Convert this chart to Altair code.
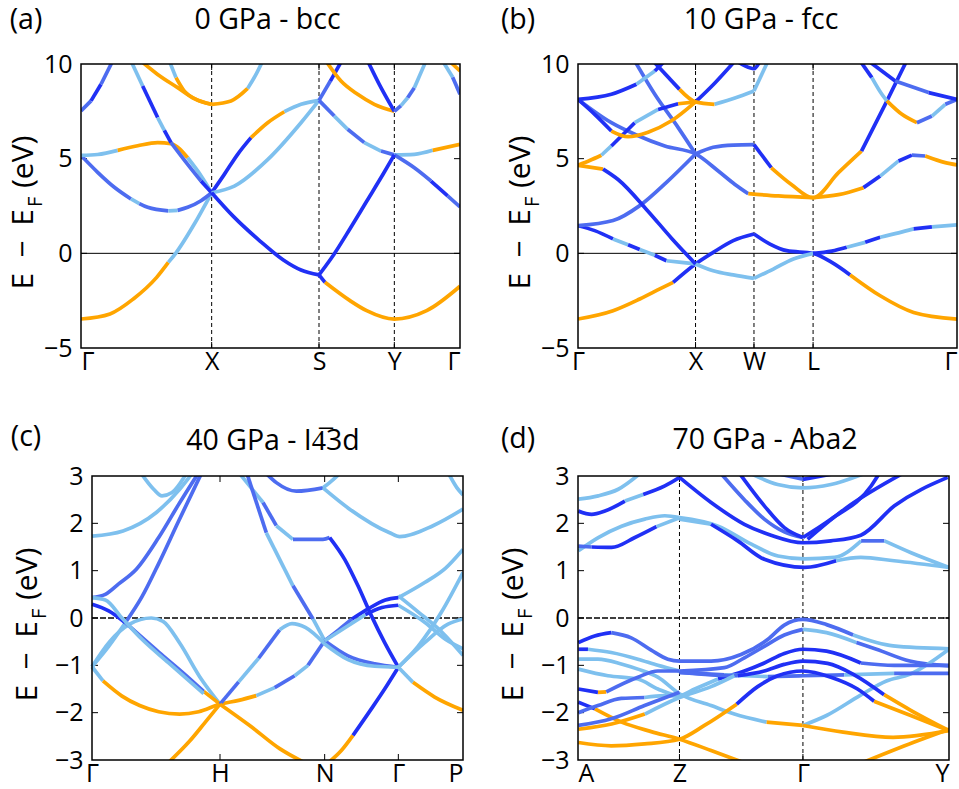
import altair as alt
import pandas as pd

FONT = "Open Sans"
CODES = ["O", "L", "M", "D"]
PALETTE = ["#FFA500", "#7EC0EE", "#4D6CF0", "#2030F5"]

# ---------------- panel (a): 0 GPa - bcc ----------------
A_XT = [0, 392, 714, 940, 1137]
A_XL = ["Γ", "X", "S", "Y", "Γ"]
A_VL = [392, 714, 940]
A01 = ([0, 87, 157, 227, 262, 284, 340, 392], [-3.47, -3.2, -2.41, -1.27, -0.48, 0, 1.55, 3.2], "OOOOLLL")
A02 = ([0, 50, 100, 150, 175, 200, 262, 290, 320, 360, 392], [5.17, 4.28, 3.49, 2.87, 2.63, 2.43, 2.24, 2.27, 2.43, 2.78, 3.2], "MMMLMMLMMM")
A03 = ([0, 50, 110, 170, 230, 270, 320, 360, 392], [5.17, 5.22, 5.44, 5.68, 5.85, 5.79, 5.05, 4.1, 3.2], "LLOOOOLL")
A04 = ([0, 30, 60, 95], [7.52, 8.05, 8.93, 10.16], "MDM")
A05 = ([150, 185, 230, 250, 270, 320, 360, 392], [10.16, 8.84, 7.17, 6.5, 5.85, 4.7, 3.82, 3.2], "LDLDMMD")
A06 = ([180, 230, 290, 340, 392], [10.16, 9.45, 8.75, 8.17, 7.87], "OOOO")
A07 = ([265, 285, 310, 345, 392], [10.16, 9.28, 8.57, 8.13, 7.87], "LOOO")
A08 = ([392, 450, 500, 525, 545], [7.87, 8.05, 8.71, 9.45, 10.16], "OOLL")
A09 = ([392, 430, 470, 510, 560, 610, 660, 714], [3.2, 4.17, 5.23, 6.11, 6.9, 7.48, 7.87, 8.08], "DDDOOLL")
A10 = ([392, 460, 560, 660, 714], [3.2, 3.55, 4.95, 6.9, 8.08], "LLLL")
A11 = ([392, 457, 537, 607, 660, 714], [3.2, 1.95, 0.65, -0.35, -0.88, -1.14], "DDDDD")
A12 = ([714, 748, 782], [8.08, 9.1, 10.16], "MD")
A13 = ([735, 780, 830, 880, 940], [10.16, 9.1, 8.4, 7.87, 7.5], "OOOO")
A14 = ([860, 900, 940], [10.16, 8.75, 7.5], "DD")
A15 = ([940, 960, 980, 1000, 1035], [7.5, 7.8, 8.22, 8.75, 10.16], "MLML")
A16 = ([1085, 1115, 1137], [10.16, 9.3, 8.4], "LM")
A17 = ([1105, 1137], [10.16, 9.63], "O")
A18 = ([714, 760, 800, 850, 900, 940], [8.08, 7.25, 6.55, 5.85, 5.4, 5.2], "MLMLM")
A19 = ([940, 1000, 1055, 1137], [5.2, 5.23, 5.44, 5.76], "LLO")
A20 = ([940, 1000, 1050, 1100, 1137], [5.2, 4.52, 3.82, 3.03, 2.45], "MMDM")
A21 = ([714, 757, 807, 857, 907, 940], [-1.14, -0.1, 1.3, 2.75, 4.2, 5.2], "DDDDD")
A22 = ([714, 732, 807, 857, 940, 1037, 1137], [-1.14, -1.53, -2.5, -3.03, -3.47, -3.03, -1.74], "DOOOOO")
BANDS_A = [A01, A02, A03, A04, A05, A06, A07, A08, A09, A10, A11, A12, A13, A14, A15, A16, A17, A18, A19, A20, A21, A22]

# ---------------- panel (b): 10 GPa - fcc ----------------
B_XT = [0, 352, 527, 704, 1135]
B_XL = ["Γ", "X", "W", "L", "Γ"]
B_VL = [352, 527, 704]
B01 = ([0, 105, 185, 245, 285, 352, 405, 465, 527], [-3.47, -3.03, -2.41, -1.88, -1.53, -0.56, 0.05, 0.67, 1.02], "OOOODDDD")
B01R = ([527, 575, 625, 704, 760, 815, 905, 1005, 1135], [1.02, 0.49, 0.14, 0, -0.48, -1.14, -2.24, -3.12, -3.47], "DDDDDOOO")
B02 = ([0, 50, 105, 150, 185, 230, 265, 310, 352], [1.46, 1.2, 0.76, 0.45, 0.2, -0.1, -0.39, -0.48, -0.56], "DDLDLDLL")
B03 = ([352, 405, 465, 527], [-0.56, -0.92, -1.14, -1.32], "LLL")
B03R = ([527, 585, 645, 704], [-1.32, -0.83, -0.3, 0], "LLL")
B04 = ([704, 760, 805, 860, 905, 960, 1005, 1060, 1135], [0, 0.12, 0.32, 0.58, 0.85, 1.08, 1.29, 1.4, 1.5], "DDLDLLDL")
B05 = ([0, 105, 185, 265, 352], [1.46, 1.73, 2.52, 3.75, 5.25], "MMMM")
B06 = ([352, 405, 465, 527, 579, 639, 704, 780, 849, 920, 984], [5.25, 5.6, 5.72, 5.74, 4.52, 3.64, 2.94, 4.26, 5.4, 7.87, 10.16], "MMMDOOOODD")
B07 = ([0, 100, 175, 260, 352, 420, 470, 510, 600, 704], [8.13, 6.9, 6.25, 5.67, 5.25, 4.35, 3.64, 3.15, 3.03, 2.94], "MMMMMMMOO")
B08 = ([170, 230, 300, 352], [10.16, 8.4, 6.64, 5.25], "MMM")
B09 = ([0, 35, 70, 100, 170, 240, 300, 352], [4.65, 4.9, 5.18, 5.67, 6.9, 7.6, 7.9, 8.0], "OOLDLDO")
B10 = ([0, 50, 100, 150, 210, 280, 352, 410, 470], [8.13, 7.34, 6.46, 6.16, 6.4, 7.0, 8.0, 9.0, 10.16], "DDOOOODD")
B11 = ([225, 304, 352, 409, 470, 527], [10.16, 8.66, 8.0, 7.87, 8.2, 8.57], "DOOLL")
B11R = ([527, 569], [8.57, 10.16], "L")
B12 = ([0, 100, 175, 230, 260], [8.13, 8.4, 8.93, 9.63, 10.16], "DDLD")
B13 = ([0, 75, 120, 209, 280, 352], [4.65, 4.45, 3.9, 2.24, 0.8, -0.56], "ODDDD")
B14 = ([475, 500, 527, 545], [10.16, 9.9, 9.75, 10.16], "DDD")
B15 = ([845, 880, 910, 925, 970, 1015, 1060, 1100, 1135], [10.16, 9.28, 8.4, 8.05, 7.34, 6.9, 7.25, 7.87, 8.13], "DLLOOMLM")
B16 = ([870, 950, 1050, 1135], [10.16, 9.1, 8.49, 8.13], "DMD")
B17 = ([704, 780, 855, 905, 960, 1000, 1040, 1100, 1135], [2.94, 3.1, 3.47, 4.08, 4.88, 5.19, 5.14, 4.79, 4.67], "OODLDMOO")
BANDS_B = [B01, B01R, B02, B03, B03R, B04, B05, B06, B07, B08, B09, B10, B11, B11R, B12, B13, B14, B15, B16, B17]

# ---------------- panel (c): 40 GPa - I-43d ----------------
C_XT = [0, 384, 698, 919, 1113]
C_XL = ["Γ", "H", "N", "Γ", "P"]
C01 = ([0, 93, 193, 263, 300], [1.73, 1.84, 2.23, 2.72, 3.05], "LLLL")
C02 = ([148, 185, 210, 240, 283], [3.05, 2.72, 2.58, 2.65, 3.05], "LLLL")
C03 = ([0, 40, 80, 133, 200, 260, 318], [0.43, 0.5, 0.72, 1.03, 1.7, 2.4, 3.05], "MMMMMM")
C04 = ([0, 50, 100, 150, 200, 260, 328], [-1.03, -0.6, -0.1, 0.45, 1.15, 2.05, 3.05], "LLMMMM")
C05 = ([0, 53, 113, 178, 213, 263, 323, 384], [-1.03, -0.5, -0.13, 0.0, -0.07, -0.53, -1.24, -1.82], "LLLLLLL")
C06 = ([0, 50, 100, 200, 280, 335, 384], [0.29, 0.15, -0.1, -0.72, -1.2, -1.55, -1.82], "DDMMMO")
C07 = ([0, 40, 90, 150, 230, 335], [0.43, 0.38, 0.0, -0.45, -0.95, -1.6], "LLLLL")
C08 = ([0, 33, 90, 143, 200, 263, 320, 384, 440, 493, 548, 608, 648, 698],
       [-1.03, -1.33, -1.65, -1.85, -1.98, -2.03, -1.98, -1.82, -1.74, -1.64, -1.47, -1.22, -1.0, -0.48],
       "LOOOOOOOOLMLM")
C09 = ([443, 513, 553, 603, 693, 713, 758, 798, 838, 878, 919], [3.05, 2.44, 1.95, 1.66, 1.66, 1.7, 1.24, 0.68, 0.05, -0.52, -1.04], "LMLMMDDDDD")
C10 = ([710, 748, 783, 838, 878, 919], [-3.05, -2.8, -2.48, -1.92, -1.5, -1.04], "OODDD")
C11 = ([465, 523, 603, 663, 698, 768, 848, 919], [3.05, 1.8, 0.68, -0.02, -0.48, -0.8, -0.97, -1.04], "MLMLMMM")
C12 = ([698, 768, 848, 919], [-0.55, -0.88, -1.02, -1.04], "LLL")
C13 = ([919, 963, 1028, 1113], [-1.04, -1.36, -1.67, -1.95], "LOO")
C14 = ([919, 998, 1060, 1113], [0.43, 0.75, 1.05, 1.45], "LLL")
C15 = ([919, 978, 1048, 1113], [-1.04, -0.6, 0.12, 0.96], "LLL")
C16 = ([919, 998, 1068, 1113], [-1.04, -0.52, -0.13, -0.02], "LLL")
C17 = ([919, 980, 1050, 1113], [0.47, 0.12, -0.3, -0.79], "LLL")
C18 = ([919, 1000, 1060, 1113], [0.27, -0.1, -0.45, -0.65], "LLL")
C19 = ([523, 553, 613, 693, 713, 743], [3.05, 2.86, 2.68, 2.75, 2.86, 3.05], "MMMLL")
C20 = ([693, 773, 893, 923, 1023, 1113], [2.75, 2.3, 1.8, 1.72, 1.95, 2.3], "LLLLL")
C21 = ([1070, 1095, 1113], [3.05, 2.75, 2.6], "LL")
C22 = ([698, 740, 780, 830, 880, 919], [-0.48, -0.25, -0.02, 0.2, 0.38, 0.43], "MMDDD")
C23 = ([698, 760, 820, 870, 919], [-0.48, -0.2, 0.07, 0.22, 0.27], "LLDD")
C24 = ([384, 440, 500, 563, 600, 640, 698], [-1.82, -1.35, -0.85, -0.25, -0.12, -0.2, -0.55], "MLMLLL")
C25 = ([230, 293, 340, 384], [-3.05, -2.6, -2.2, -1.82], "OOO")
C26 = ([384, 473, 563, 636], [-1.82, -2.27, -2.76, -3.05], "OOO")
BANDS_C = [C01, C02, C03, C04, C05, C06, C07, C08, C09, C10, C11, C12, C13, C14, C15, C16, C17, C18, C19,
           C20, C21, C22, C23, C24, C25, C26]

# ---------------- panel (d): 70 GPa - Aba2 ----------------
D_XT = [0, 305, 676, 1115]
D_XL = ["A", "Z", "Γ", "Y"]
D_VL = [305, 676]
D01 = ([1, 61, 121, 186], [2.51, 2.58, 2.72, 3.05], "LLL")
D02 = ([1, 41, 81, 141, 196, 261, 305], [2.26, 2.19, 2.26, 2.47, 2.61, 2.79, 2.97], "DDDLDD")
D03 = ([1, 61, 131, 201, 261, 305], [1.42, 1.7, 1.94, 2.09, 2.16, 2.12], "LLLLL")
D04 = ([1, 41, 101, 171, 236, 305], [1.52, 1.5, 1.49, 1.7, 1.93, 2.12], "MDDDL")
D05 = ([305, 421, 521, 601, 681, 771, 851, 921, 1001, 1115], [2.12, 1.94, 1.56, 1.31, 1.25, 1.28, 1.63, 1.63, 1.38, 1.07], "LLLLLLMLL")
D06 = ([305, 400, 480, 560, 681, 776, 850, 950, 1115], [2.09, 1.98, 1.63, 1.24, 1.07, 1.21, 1.28, 1.21, 1.07], "LDDDDLLL")
D07 = ([305, 400, 500, 580, 676, 760, 850, 951, 1111], [2.97, 2.44, 1.98, 1.75, 1.59, 1.63, 1.75, 2.37, 2.97], "DDDDDDDD")
D08 = ([430, 500, 560, 620, 676], [3.05, 2.5, 2.09, 1.82, 1.7], "MMMM")
D09 = ([486, 560, 620, 676], [3.05, 2.37, 1.91, 1.7], "DDD")
D10 = ([676, 761, 881, 905], [1.7, 2.09, 2.79, 3.05], "DDD")
D11 = ([690, 801, 975], [1.66, 2.3, 3.05], "DD")
D12 = ([520, 600, 676, 760, 860], [3.05, 2.82, 2.75, 2.82, 3.05], "LLLL")
D13 = ([600, 676, 770], [3.05, 2.93, 3.05], "MD")
D14 = ([1, 50, 100, 160, 220, 270, 305, 400, 490, 571, 620, 676, 747, 827, 947, 1115],
       [-0.52, -0.38, -0.31, -0.42, -0.68, -0.87, -0.91, -0.91, -0.77, -0.45, -0.15, -0.03, -0.14, -0.36, -0.59, -0.65],
       "DDMMMMMMMMMMMLL")
D15 = ([1, 30, 100, 180, 240, 305, 440, 500, 560, 620, 676, 747, 837, 897, 997, 1115],
       [-0.66, -0.66, -0.73, -0.87, -1.0, -1.12, -1.05, -0.84, -0.6, -0.36, -0.24, -0.31, -0.52, -0.66, -0.91, -1.01],
       "DLLLLMMMMMLLMMM")
D16 = ([1, 60, 130, 180, 240, 305, 400, 470, 567, 676, 747, 847, 927, 997, 1115],
       [-0.87, -0.87, -0.97, -1.08, -1.25, -1.6, -1.85, -2.03, -2.2, -2.27, -2.06, -1.64, -1.33, -1.19, -0.66],
       "LLLLLLLLOLLLLL")
D17 = ([1, 90, 180, 240, 305, 351, 421, 500, 560, 620, 676, 747, 850, 950, 1115],
       [-1.08, -1.22, -1.29, -1.5, -1.64, -1.5, -1.29, -1.12, -0.95, -0.75, -0.66, -0.7, -0.95, -1.0, -1.0],
       "LLLLLLDDDDDDMM")
D18 = ([1, 60, 85, 180, 240, 305], [-1.5, -1.57, -1.56, -1.25, -1.12, -1.12], "DOMMM")
D19 = ([305, 440, 571, 676, 800, 950, 1115], [-1.15, -1.2, -1.24, -1.22, -1.2, -1.17, -1.17], "MLMMLM")
D20 = ([1, 100, 200, 305, 380, 477, 540, 600, 676, 760, 840, 890, 1000, 1115],
       [-2.63, -2.7, -2.66, -2.56, -2.27, -1.82, -1.45, -1.22, -1.12, -1.25, -1.5, -1.76, -2.06, -2.38],
       "OOOOODDDDDDOO")
D21 = ([305, 400, 480, 560, 620, 676, 750, 830, 920, 1000, 1115],
       [-1.15, -1.2, -1.22, -1.12, -0.98, -0.91, -0.96, -1.2, -1.62, -1.95, -2.38], "MMDDDDDDOO")
D22 = ([1, 51, 131, 220, 305, 400, 496], [-1.78, -1.92, -2.2, -2.4, -2.56, -2.8, -3.05], "DOOOOO")
D23 = ([1, 60, 130, 200, 260, 305], [-2.0, -1.85, -1.7, -1.68, -1.64, -1.65], "MMMLL")
D24 = ([1, 101, 201, 305, 400, 470], [-2.35, -2.24, -2.03, -1.68, -1.45, -1.22], "OOLLL")
D25 = ([1, 100, 200, 305], [-2.27, -2.13, -1.85, -1.57], "MMM")
D26 = ([857, 1007, 1115], [-3.05, -2.63, -2.35], "OO")
D27 = ([676, 797, 947, 1115], [-2.27, -2.41, -2.52, -2.38], "OOO")
BANDS_D = [D01, D02, D03, D04, D05, D06, D07, D08, D09, D10, D11, D12, D13, D14, D15, D16, D17, D18, D19,
           D20, D21, D22, D23, D24, D25, D26, D27]


def band_table(bands, prefix):
    rows = []
    for bi, (K, E, C) in enumerate(bands):
        piece = 0
        for i, c in enumerate(C):
            if i == 0 or C[i - 1] != c:
                piece += 1
                rows.append({"k": K[i], "e": E[i], "c": c, "g": f"{prefix}{bi}_{piece}", "o": i})
            rows.append({"k": K[i + 1], "e": E[i + 1], "c": c, "g": f"{prefix}{bi}_{piece}", "o": i + 1})
    return pd.DataFrame(rows)


def label_expr(vals, labs):
    expr = "''"
    for v, l in reversed(list(zip(vals, labs))):
        expr = f"datum.value == {v} ? '{l}' : ({expr})"
    return expr


def text(t, x, y, size, angle=0, align="center"):
    return alt.Chart(pd.DataFrame({"t": [t]})).mark_text(
        font=FONT, fontSize=size, color="black", align=align, baseline="middle", angle=angle
    ).encode(x=alt.value(x), y=alt.value(y), text="t:N")


def panel(bands, prefix, xdom, ydom, yticks, xt, xl, vlines, frame_x, width, letter, title, pos,
          zero_dash, yoffset=0, last_right=False):
    df = band_table(bands, prefix)
    x_kw = dict(values=xt, labelExpr=label_expr(xt, xl), title=None, grid=False, domain=False,
                ticks=False, labelFont=FONT, labelFontSize=25, labelColor="black", labelPadding=1,
                labelAngle=0, labelOverlap=False)
    if last_right:
        x_kw["labelAlign"] = {"condition": {"test": f"datum.value >= {xt[-1]}", "value": "right"},
                              "value": "center"}
    xa = alt.Axis(**x_kw)
    ya = alt.Axis(values=yticks, format="d", title=None, grid=False, domain=False, ticks=False,
                  labelFont=FONT, labelFontSize=25, labelColor="black", labelPadding=9, offset=yoffset)
    xs = alt.Scale(domain=xdom, nice=False, zero=False)
    ys = alt.Scale(domain=ydom, nice=False, zero=False)

    lines = alt.Chart(df).mark_line(interpolate="monotone", strokeWidth=3.7, clip=True).encode(
        x=alt.X("k:Q", scale=xs, axis=xa),
        y=alt.Y("e:Q", scale=ys, axis=ya),
        color=alt.Color("c:N", scale=alt.Scale(domain=CODES, range=PALETTE), legend=None),
        detail="g:N",
        order="o:Q",
    )
    layers = []
    if vlines:
        layers.append(alt.Chart(pd.DataFrame({"k": vlines})).mark_rule(
            color="black", strokeWidth=1, strokeDash=[4, 3]).encode(x=alt.X("k:Q", scale=xs, axis=xa)))
    # small inward tick marks on the frame (6 px long)
    dk = 6 * (xdom[1] - xdom[0]) / width
    de = 6 * (ydom[1] - ydom[0]) / 284
    trows = []
    for v in yticks[1:-1]:
        trows.append({"k": frame_x[0], "k1": frame_x[0] + dk, "e": v, "e1": v})
        trows.append({"k": frame_x[1] - dk, "k1": frame_x[1], "e": v, "e1": v})
    for v in xt[1:-1]:
        trows.append({"k": v, "k1": v, "e": ydom[0], "e1": ydom[0] + de})
        trows.append({"k": v, "k1": v, "e": ydom[1] - de, "e1": ydom[1]})
    ticks = alt.Chart(pd.DataFrame(trows)).mark_rule(color="black", strokeWidth=1).encode(
        x=alt.X("k:Q", scale=xs, axis=xa), x2="k1:Q", y=alt.Y("e:Q", scale=ys, axis=ya), y2="e1:Q")
    zdf = pd.DataFrame({"k": [frame_x[0]], "k1": [frame_x[1]], "e": [ydom[0]], "e1": [ydom[1]], "z": [0]})
    zero = alt.Chart(zdf).mark_rule(color="black", strokeWidth=1.4 if zero_dash else 1,
                                    strokeDash=[6, 2] if zero_dash else [1, 0]).encode(
        x=alt.X("k:Q", scale=xs, axis=xa), x2="k1:Q", y=alt.Y("z:Q", scale=ys, axis=ya))
    frame = alt.Chart(zdf).mark_rect(fillOpacity=0, stroke="black", strokeWidth=1.5).encode(
        x=alt.X("k:Q", scale=xs, axis=xa), x2="k1:Q", y=alt.Y("e:Q", scale=ys, axis=ya), y2="e1:Q")
    layers += [zero, ticks, lines, frame]
    (lx, ly), (tx, ty), (mx, fx) = pos
    layers += [
        text(letter, lx, ly, 28.5),
        text(title, tx, ty, 28.5),
        text("E\u2002−\u2002E", mx, 145, 30, angle=270, align="right"),
        text("F", fx, 143, 20, angle=270, align="left"),
        text("(eV)", mx, 124, 30, angle=270, align="left"),
    ]
    return alt.layer(*layers).properties(width=width, height=284)


pa = panel(BANDS_A, "a", [0, 1137], [-5, 10], [-5, 0, 5, 10], A_XT, A_XL, A_VL, [0, 1137], 379,
           "(a)", "0 GPa - bcc", ((-55, -44), (186.5, -44), (-57, -45)), False)
pb = panel(BANDS_B, "b", [0, 1135], [-5, 10], [-5, 0, 5, 10], B_XT, B_XL, B_VL, [0, 1135], 379,
           "(b)", "10 GPa - fcc", ((-60, -44), (183, -44), (-57, -45)), False, last_right=True)
pc = panel(BANDS_C, "c", [-33, 1113], [-3, 3], [-3, -2, -1, 0, 1, 2, 3], C_XT, C_XL, [], [0, 1113], 382,
           "(c)", "40 GPa - I4\u03053d", ((-55, -39), (192, -35), (-53, -41)), True, yoffset=-11)
pd_ = panel(BANDS_D, "d", [0, 1115], [-3, 3], [-3, -2, -1, 0, 1, 2, 3], D_XT, D_XL, D_VL, [0, 1115], 371,
            "(d)", "70 GPa - Aba2", ((-60, -37), (187, -36), (-64, -52)), True)

chart = alt.concat(pa, pb, pc, pd_, columns=2, spacing={"row": 128, "column": 115}, bounds="flush").properties(
    padding={"left": 9, "top": 6, "right": 0, "bottom": 4}
).configure_view(strokeWidth=0)

chart.save("out.html", embed_options={"renderer": "svg", "actions": False})
